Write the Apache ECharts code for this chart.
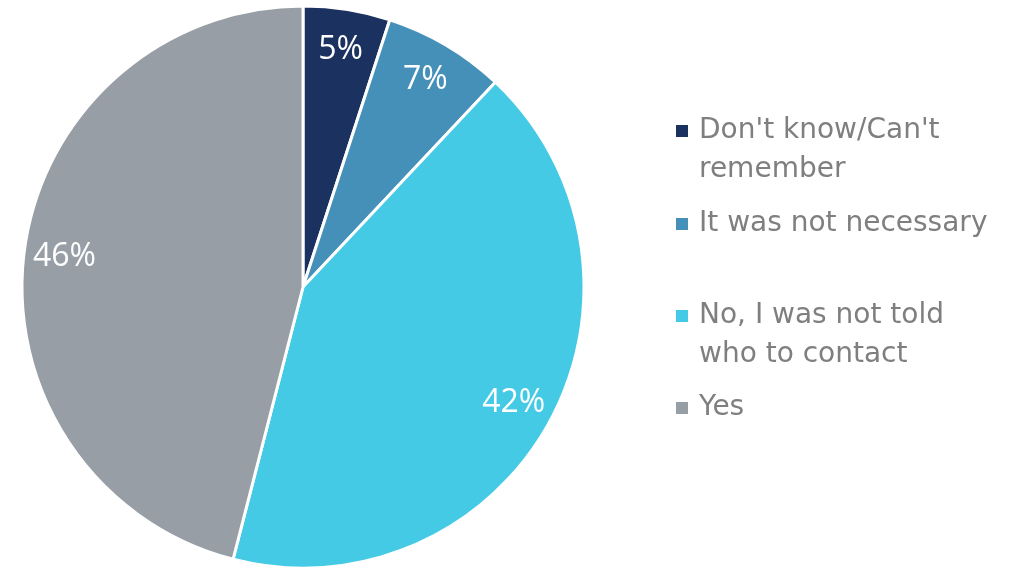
<!DOCTYPE html>
<html>
<head>
<meta charset="utf-8">
<script src="https://cdn.jsdelivr.net/npm/echarts@6/dist/echarts.min.js"></script>
<style>
  html, body { margin: 0; padding: 0; background: #ffffff; }
  #chart { width: 1020px; height: 567px; }
</style>
</head>
<body>
<div id="chart"></div>
<script>
// Survey answers and their shares (percent)
const categories = [
  "Don't know/Can't\nremember",
  "It was not necessary",
  "No, I was not told\nwho to contact",
  "Yes"
];
const shares = [5, 7, 42, 46];
const colors = ['#1b3160', '#4590b9', '#45cae6', '#979ea6'];

// Vertical centre of each legend marker
const legendIconCenters = [131, 224, 316, 408];
const LINE_H = 39;

const center = [303, 287];
const R = 281;

const data = categories.map((name, i) => ({
  name: name,
  value: shares[i],
  itemStyle: { color: colors[i] }
}));

// One legend block per answer so each can sit at its own height.
// Two-line names get a blank leading line so the marker, which is
// centred on the text block, lines up with the first text line.
const legends = categories.map((name, i) => {
  const lines = name.split('\n').length;
  const shown = lines > 1 ? lines * 2 - 1 : 1;
  const boxH = shown * LINE_H;
  return {
    data: [name],
    orient: 'vertical',
    left: 676,
    top: legendIconCenters[i] - boxH / 2,
    padding: 0,
    icon: 'rect',
    itemWidth: 12,
    itemHeight: 12,
    itemStyle: { borderWidth: 0 },
    selectedMode: false,
    formatter: (n) => (lines > 1 ? ' \n'.repeat(lines - 1) + n : n),
    textStyle: {
      fontFamily: 'DejaVu Sans',
      fontSize: 28,
      color: '#7f7f7f',
      lineHeight: LINE_H,
      padding: [0, 0, 0, 6]
    }
  };
});

const chart = echarts.init(document.getElementById('chart'), null, { renderer: 'canvas' });
chart.setOption({
  animation: false,
  backgroundColor: '#ffffff',
  legend: legends,
  series: [
    {
      // the slices
      type: 'pie',
      center: center,
      radius: [0, R],
      startAngle: 90,
      clockwise: true,
      silent: true,
      data: data,
      itemStyle: { borderColor: '#ffffff', borderWidth: 3 },
      label: { show: false },
      labelLine: { show: false }
    },
    {
      // transparent ring carrying the percentage labels near the rim
      type: 'pie',
      center: center,
      radius: [R * 0.69, R],
      startAngle: 90,
      clockwise: true,
      silent: true,
      legendHoverLink: false,
      data: categories.map((name, i) => ({ name: name, value: shares[i] })),
      itemStyle: { color: 'rgba(0,0,0,0)', borderWidth: 0 },
      label: {
        show: true,
        position: 'inside',
        formatter: '{c}%',
        color: '#ffffff',
        fontFamily: 'Open Sans',
        fontSize: 32
      },
      labelLine: { show: false }
    }
  ]
});
</script>
</body>
</html>
